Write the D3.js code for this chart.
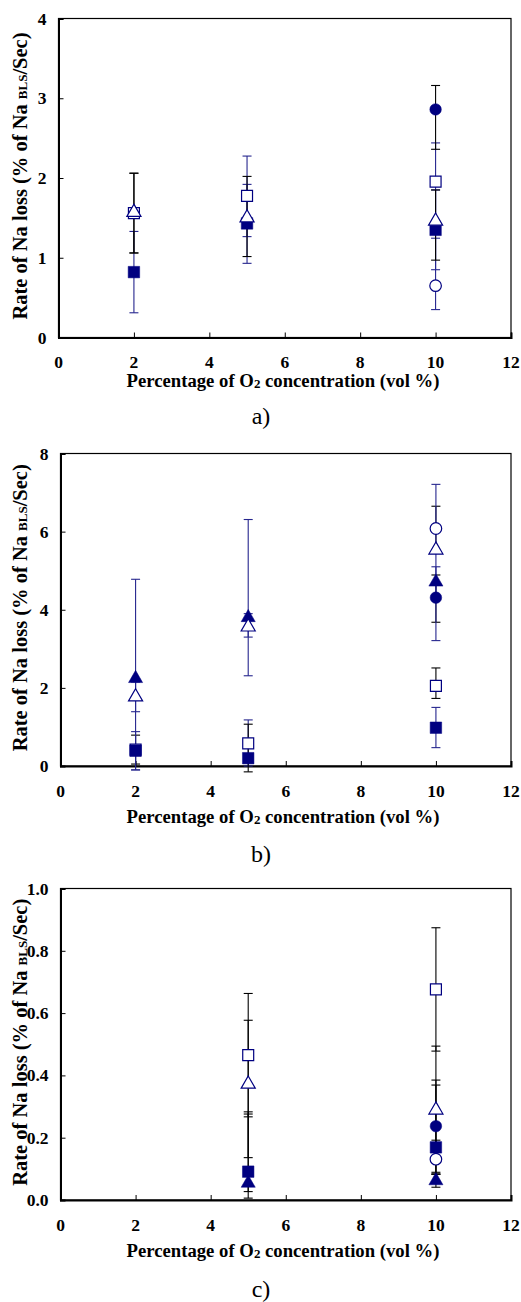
<!DOCTYPE html>
<html>
<head>
<meta charset="utf-8">
<script src="https://cdn.jsdelivr.net/npm/d3@7"></script>
<style>
  body { margin: 0; background: #fff; }
  svg { display: block; }
</style>
</head>
<body>
<svg id="chart" width="521" height="1302"></svg>
<script>
// data: [marker, O2 %, rate, error low, error high]
const xTicks = [0, 2, 4, 6, 8, 10, 12];
const yTicksA = [0, 1, 2, 3, 4];
const yTicksB = [0, 2, 4, 6, 8];
const yTicksC = [0, 0.2, 0.4, 0.6, 0.8, 1.0];

const pointsA = [
  ['fsq', 2, 0.82, 0.31, 1.33],
  ['osq', 2, 1.56, 1.06, 2.06],
  ['otri', 2, 1.57, 1.06, 2.06],
  ['fsq', 5, 1.43, 0.93, 1.92],
  ['osq', 5, 1.775, 1.265, 2.275],
  ['otri', 5, 1.50, 1.015, 2.02],
  ['fsq', 10, 1.35, 0.85, 1.85],
  ['osq', 10, 1.955, 1.47, 2.44],
  ['fcir', 10, 2.86, 2.36, 3.16],
  ['ocir', 10, 0.65, 0.35, 1.245],
  ['otri', 10, 1.46, 0.97, 1.85]
];
const inkA = ['n', 'k', 'k', 'n', 'n', 'k', 'n', 'n', 'k', 'n', 'k'];

const pointsB = [
  ['osq', 2, 0.42, 0.05, 0.79],
  ['fsq', 2, 0.39, -0.1, 0.88],
  ['ftri', 2, 2.24, -0.1, 4.78],
  ['otri', 2, 1.77, 1.39, 2.15],
  ['osq', 5, 0.58, 0.0, 1.18],
  ['fsq', 5, 0.20, -0.15, 1.07],
  ['ftri', 5, 3.80, 2.31, 6.31],
  ['otri', 5, 3.56, 3.3, 3.9],
  ['fsq', 10, 0.98, 0.47, 1.5],
  ['osq', 10, 2.05, 1.73, 2.51],
  ['fcir', 10, 4.31, 3.68, 4.89],
  ['ocir', 10, 6.08, 5.5, 6.65],
  ['ftri', 10, 4.71, 4.3, 5.1],
  ['otri', 10, 5.53, 3.21, 7.21]
];
const inkB = ['k', 'n', 'n', 'n', 'n', 'k', 'n', 'n', 'n', 'k', 'k', 'k', 'n', 'n'];

const pointsC = [
  ['fsq', 5, 0.091, 0.006, 0.283],
  ['osq', 5, 0.465, 0.267, 0.663],
  ['ftri', 5, 0.054, 0.027, 0.276],
  ['otri', 5, 0.372, 0.136, 0.577],
  ['fsq', 10, 0.169, 0.13, 0.192],
  ['osq', 10, 0.676, 0.478, 0.874],
  ['fcir', 10, 0.237, 0.089, 0.385],
  ['ocir', 10, 0.131, 0.083, 0.369],
  ['ftri', 10, 0.062, 0.041, 0.083],
  ['otri', 10, 0.289, 0.083, 0.494]
];
const inkC = ['k', 'k', 'k', 'k', 'k', 'k', 'k', 'k', 'k', 'k'];

const navy = '#000080';
const barNavy = '#26268e';
const serif = "'Liberation Serif', 'Times New Roman', serif";

const panels = [
  { pts: pointsA, ink: inkA, yTicks: yTicksA, fmt: d3.format('d'), left: 58.5, top: 18.5, bottom: 337.5,
    tickY: 368, titleY: 387, tagY: 424, tag: 'a)' },
  { pts: pointsB, ink: inkB, yTicks: yTicksB, fmt: d3.format('d'), left: 60.5, top: 453.5, bottom: 766,
    tickY: 797, titleY: 823, tagY: 862, tag: 'b)' },
  { pts: pointsC, ink: inkC, yTicks: yTicksC, fmt: d3.format('.1f'), left: 60.5, top: 888.5, bottom: 1200,
    tickY: 1231, titleY: 1257, tagY: 1297, tag: 'c)' }
];

const svg = d3.select('#chart');
const right = 511;

const sym = {
  fsq: d3.symbol(d3.symbolSquare, 132),
  osq: d3.symbol(d3.symbolSquare, 120),
  ftri: d3.symbol(d3.symbolTriangle, 86),
  otri: d3.symbol(d3.symbolTriangle, 86),
  fcir: d3.symbol(d3.symbolCircle, 105),
  ocir: d3.symbol(d3.symbolCircle, 105)
};

panels.forEach(p => {
  const x = d3.scaleLinear().domain([0, 12]).range([p.left, right]);
  const y = d3.scaleLinear().domain([0, d3.max(p.yTicks)]).range([p.bottom, p.top]);
  const g = svg.append('g');

  // frame
  g.append('rect')
    .attr('x', p.left).attr('y', p.top)
    .attr('width', right - p.left).attr('height', p.bottom - p.top)
    .attr('fill', 'none').attr('stroke', '#000').attr('stroke-width', 1.2);

  // axes: ticks point inward, labels drawn separately
  const xAxis = g.append('g').attr('transform', `translate(0,${p.bottom})`)
    .call(d3.axisTop(x).tickValues(xTicks).tickSize(5).tickFormat(''));
  const yAxis = g.append('g').attr('transform', `translate(${p.left},0)`)
    .call(d3.axisRight(y).tickValues(p.yTicks).tickSize(5).tickFormat(''));
  [xAxis, yAxis].forEach(a => {
    a.select('.domain').attr('stroke-width', 2);
    a.selectAll('.tick line').attr('stroke-width', 1);
  });

  g.selectAll('.xl').data(xTicks).enter().append('text')
    .attr('x', d => x(d)).attr('y', p.tickY)
    .attr('text-anchor', 'middle')
    .style('font', `bold 17.5px ${serif}`)
    .text(d => d);

  g.selectAll('.yl').data(p.yTicks).enter().append('text')
    .attr('x', p.left - 12).attr('y', d => y(d) + 6)
    .attr('text-anchor', 'end')
    .style('font', `bold 17.5px ${serif}`)
    .text(p.fmt);

  // x title
  const xt = g.append('text')
    .attr('x', 283).attr('y', p.titleY)
    .attr('text-anchor', 'middle')
    .style('font', `bold 18.7px ${serif}`);
  xt.append('tspan').text('Percentage of O');
  xt.append('tspan').attr('font-size', '13px').attr('dy', 1).text('2');
  xt.append('tspan').attr('dy', -1).text(' concentration (vol %)');

  // y title
  const midY = (p.top + p.bottom) / 2 - 2;
  const yt = g.append('text')
    .attr('transform', `translate(27,${midY}) rotate(-90)`)
    .attr('text-anchor', 'middle')
    .style('font', `bold 20.5px ${serif}`);
  yt.append('tspan').text('Rate of Na loss (% of Na ');
  yt.append('tspan').attr('font-size', '13px').text('BLS');
  yt.append('tspan').text('/Sec)');

  g.append('text')
    .attr('x', 261).attr('y', p.tagY)
    .attr('text-anchor', 'middle')
    .style('font', `24px ${serif}`)
    .text(p.tag);

  // error bars then markers, in series order
  const rows = p.pts.map((d, i) => ({ s: d[0], x: d[1], v: d[2], lo: d[3], hi: d[4], ink: p.ink[i] }));
  const bars = g.selectAll('.err').data(rows).enter().append('g')
    .attr('stroke', d => d.ink === 'k' ? '#000' : barNavy)
    .attr('stroke-width', 1.1);
  bars.append('line')
    .attr('x1', d => x(d.x)).attr('x2', d => x(d.x))
    .attr('y1', d => y(d.lo)).attr('y2', d => y(d.hi));
  ['lo', 'hi'].forEach(k => {
    bars.append('line')
      .attr('x1', d => x(d.x) - 4.5).attr('x2', d => x(d.x) + 4.5)
      .attr('y1', d => y(d[k])).attr('y2', d => y(d[k]));
  });

  g.selectAll('.mk').data(rows).enter().append('path')
    .attr('transform', d => `translate(${x(d.x)},${y(d.v)})`)
    .attr('d', d => sym[d.s]())
    .attr('fill', d => d.s[0] === 'f' ? navy : '#fff')
    .attr('stroke', navy)
    .attr('stroke-width', d => d.s[0] === 'f' ? 0.5 : 1.2);
});
</script>
</body>
</html>
